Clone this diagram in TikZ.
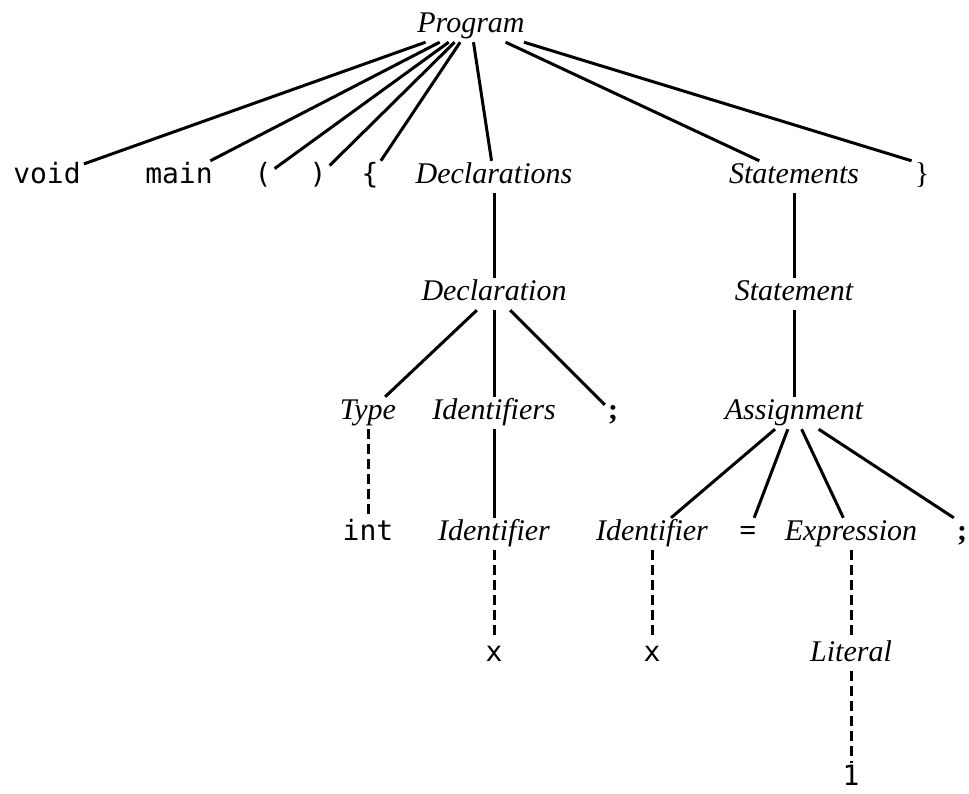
\documentclass[tikz,border=0pt]{standalone}
\usepackage{fontspec}
\setmainfont{Liberation Serif}
\setmonofont{DejaVu Sans Mono}
\begin{document}
\begin{tikzpicture}[x=1pt,y=-1pt,
  lbl/.style={anchor=base, inner xsep=3pt, inner ysep=2pt,
              text height=20pt, text depth=8pt},
  nt/.style={lbl, font=\fontsize{30}{32}\selectfont\itshape},
  tm/.style={lbl, font=\fontsize{28}{30}\selectfont\ttfamily},
  pn/.style={lbl, font=\fontsize{30}{32}\selectfont},
  pb/.style={lbl, font=\fontsize{30}{32}\selectfont\bfseries},
  link/.style={line width=3pt},
  derive/.style={line width=3pt, dash pattern=on 10pt off 5pt}]
\useasboundingbox (0,0) rectangle (969,793);

% root
\node[nt] (prog) at (471,32) {Program};

% first level
\node[tm] (void)  at (47,183)  {void};
\node[tm] (main)  at (179,183) {main};
\node[tm] (lp)    at (263,183) {(};
\node[tm] (rp)    at (318,183) {)};
\node[tm] (lb)    at (370,183) {\{};
\node[nt] (decls) at (494,183) {Declarations};
\node[nt] (stmts) at (794,183) {Statements};
\node[pn] (rb)    at (922,183) {\}};

% second level
\node[nt] (decl) at (494,300) {Declaration};
\node[nt] (stmt) at (794,300) {Statement};

% third level
\node[nt] (type)  at (368,419) {Type};
\node[nt] (ids)   at (494,419) {Identifiers};
\node[pb] (semiA) at (613,419) {;};
\node[nt] (asg)   at (794,419) {Assignment};

% fourth level
\node[tm] (int)   at (368,540) {int};
\node[nt] (idA)   at (494,540) {Identifier};
\node[nt] (idB)   at (652,540) {Identifier};
\node[pb] (eq)    at (748,540) {=};
\node[nt] (expr)  at (851,540) {Expression};
\node[pb] (semiB) at (962,540) {;};

% fifth level
\node[tm] (xA)  at (494,661) {x};
\node[tm] (xB)  at (652,661) {x};
\node[nt] (lit) at (851,661) {Literal};

% leaf
\node[tm] (one) at (851,785) {1};

% parse-tree edges
\foreach \c in {void,main,lp,rp,lb,decls,stmts}
  \draw[link] (prog) -- (\c);
\draw[link] (prog) -- (rb.north west);
\draw[link] (decls) -- (decl);
\draw[link] (stmts) -- (stmt);
\foreach \c in {type,ids,semiA}
  \draw[link] (decl) -- (\c);
\draw[link] (stmt) -- (asg);
\draw[link] (ids) -- (idA);
\foreach \c in {idB,eq,expr}
  \draw[link] (asg) -- (\c);
\draw[link] (asg) -- (semiB.north west);

% lexical derivations
\draw[derive] (type) -- (int);
\draw[derive] (idA) -- (xA);
\draw[derive] (idB) -- (xB);
\draw[derive] (expr) -- (lit);
\draw[derive] (lit) -- (one);
\end{tikzpicture}
\end{document}
